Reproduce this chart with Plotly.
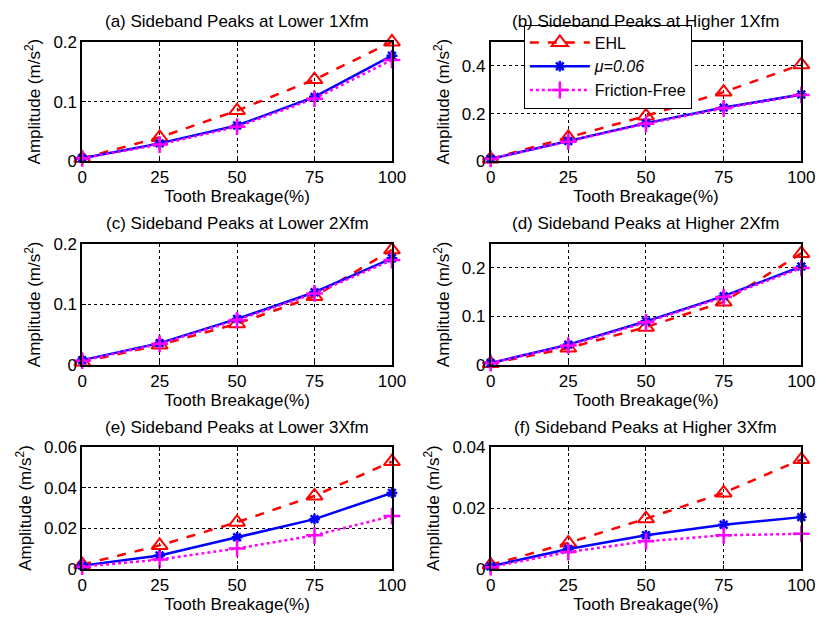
import plotly.graph_objects as go

breakage = [0, 25, 50, 75, 100]
x_ticks = [0, 25, 50, 75, 100]

titles = [
    "(a) Sideband Peaks at Lower 1Xfm",
    "(b) Sideband Peaks at Higher 1Xfm",
    "(c) Sideband Peaks at Lower 2Xfm",
    "(d) Sideband Peaks at Higher 2Xfm",
    "(e) Sideband Peaks at Lower 3Xfm",
    "(f) Sideband Peaks at Higher 3Xfm",
]

ehl_a = [0.005, 0.040, 0.085, 0.137, 0.200]
mu_a = [0.005, 0.030, 0.060, 0.108, 0.177]
ff_a = [0.005, 0.028, 0.058, 0.105, 0.170]

ehl_b = [0.010, 0.100, 0.190, 0.290, 0.405]
mu_b = [0.010, 0.085, 0.160, 0.225, 0.280]
ff_b = [0.010, 0.082, 0.157, 0.222, 0.278]

ehl_c = [0.005, 0.033, 0.068, 0.113, 0.190]
mu_c = [0.008, 0.036, 0.076, 0.120, 0.176]
ff_c = [0.007, 0.035, 0.074, 0.118, 0.173]

ehl_d = [0.003, 0.035, 0.078, 0.130, 0.230]
mu_d = [0.004, 0.042, 0.090, 0.142, 0.203]
ff_d = [0.004, 0.040, 0.088, 0.140, 0.200]

ehl_e = [0.0020, 0.0115, 0.0230, 0.0360, 0.0530]
mu_e = [0.0015, 0.0065, 0.0155, 0.0245, 0.0375]
ff_e = [0.0010, 0.0045, 0.0100, 0.0165, 0.0260]

ehl_f = [0.0012, 0.0085, 0.0165, 0.0250, 0.0360]
mu_f = [0.0008, 0.0065, 0.0110, 0.0145, 0.0170]
ff_f = [0.0005, 0.0055, 0.0090, 0.0110, 0.0115]

y_ranges = [(0, 0.2), (0, 0.5), (0, 0.2), (0, 0.25), (0, 0.06), (0, 0.04)]
y_ticktext = [["0", "0.1", "0.2"], ["0", "0.2", "0.4"], ["0", "0.1", "0.2"], ["0", "0.1", "0.2"],
              ["0", "0.02", "0.04", "0.06"], ["0", "0.02", "0.04"]]
y_tickvals = [[0, 0.1, 0.2], [0, 0.2, 0.4], [0, 0.1, 0.2], [0, 0.1, 0.2], [0, 0.02, 0.04, 0.06], [0, 0.02, 0.04]]

series = [(ehl_a, mu_a, ff_a), (ehl_b, mu_b, ff_b), (ehl_c, mu_c, ff_c),
          (ehl_d, mu_d, ff_d), (ehl_e, mu_e, ff_e), (ehl_f, mu_f, ff_f)]

W, H = 830, 632
col_px = [(79, 396), (497, 815)]
row_px = [(34, 157), (242, 367), (452, 577)]

FONT = "Liberation Sans, Arial, sans-serif"
FS = 17
fig = go.Figure()
layout = dict(width=W, height=H, margin=dict(l=0, r=0, t=0, b=0),
              paper_bgcolor="white", plot_bgcolor="white",
              font=dict(family=FONT, size=FS, color="black"))
annotations = []

for i in range(6):
    r, c = divmod(i, 2)
    xs = "x" if i == 0 else f"x{i+1}"
    ys = "y" if i == 0 else f"y{i+1}"
    ehl, mu, ff = series[i]
    show = (i == 1)
    fig.add_trace(go.Scatter(x=breakage, y=ehl, xaxis=xs, yaxis=ys, name="EHL", showlegend=show,
                             mode="lines+markers", cliponaxis=False,
                             line=dict(color="#ff0000", width=2.5, dash="dash"),
                             marker=dict(symbol="triangle-up-open", size=14, color="#ff0000",
                                         line=dict(width=2, color="#ff0000"))))
    fig.add_trace(go.Scatter(x=breakage, y=mu, xaxis=xs, yaxis=ys, name="<i>μ=0.06</i>", showlegend=show,
                             mode="lines+markers", cliponaxis=False,
                             line=dict(color="#0000ff", width=2.5),
                             marker=dict(symbol="asterisk-open", size=9, color="#0000ff",
                                         line=dict(width=2.5, color="#0000ff"))))
    fig.add_trace(go.Scatter(x=breakage, y=ff, xaxis=xs, yaxis=ys, name="Friction-Free", showlegend=show,
                             mode="lines+markers", cliponaxis=False,
                             line=dict(color="#ff00ff", width=2.5, dash="dot"),
                             marker=dict(symbol="cross-thin-open", size=12, color="#ff00ff",
                                         line=dict(width=2.5, color="#ff00ff"))))
    x0, x1 = col_px[c]
    y0, y1 = row_px[r]
    xdom = [x0 / W, x1 / W]
    ydom = [1 - y1 / H, 1 - y0 / H]
    xkey = "xaxis" if i == 0 else f"xaxis{i+1}"
    ykey = "yaxis" if i == 0 else f"yaxis{i+1}"
    layout[xkey] = dict(domain=xdom, anchor=ys, range=[0, 100], tickvals=x_ticks,
                        ticks="inside", ticklen=4, tickcolor="black",
                        showline=True, linecolor="black", linewidth=1.5, mirror="ticks",
                        showgrid=True, gridcolor="black", gridwidth=1, griddash="dot",
                        zeroline=False, tickfont=dict(size=FS),
                        title=dict(text="Tooth Breakage(%)", font=dict(size=FS), standoff=0))
    lo, hi = y_ranges[i]
    layout[ykey] = dict(domain=ydom, anchor=xs, range=[lo, hi], tickvals=y_tickvals[i],
                        ticktext=y_ticktext[i],
                        ticks="inside", ticklen=4, tickcolor="black",
                        showline=True, linecolor="black", linewidth=1.5, mirror="ticks",
                        showgrid=True, gridcolor="black", gridwidth=1, griddash="dot",
                        zeroline=False, tickfont=dict(size=FS),
                        title=dict(text="Amplitude (m/s<sup>2</sup>)", font=dict(size=FS), standoff=8))
    annotations.append(dict(text=titles[i], x=(xdom[0] + xdom[1]) / 2, y=1 - (y0 - 9) / H,
                            xref="paper", yref="paper", xanchor="center", yanchor="bottom",
                            showarrow=False, font=dict(size=FS)))

layout["annotations"] = annotations
layout["legend"] = dict(x=531 / W, y=1 - 16 / H, xanchor="left", yanchor="top",
                        bgcolor="white", bordercolor="black", borderwidth=1,
                        font=dict(size=16), itemwidth=60, tracegroupgap=0)
fig.update_layout(**layout)
fig.write_html("out.html")
